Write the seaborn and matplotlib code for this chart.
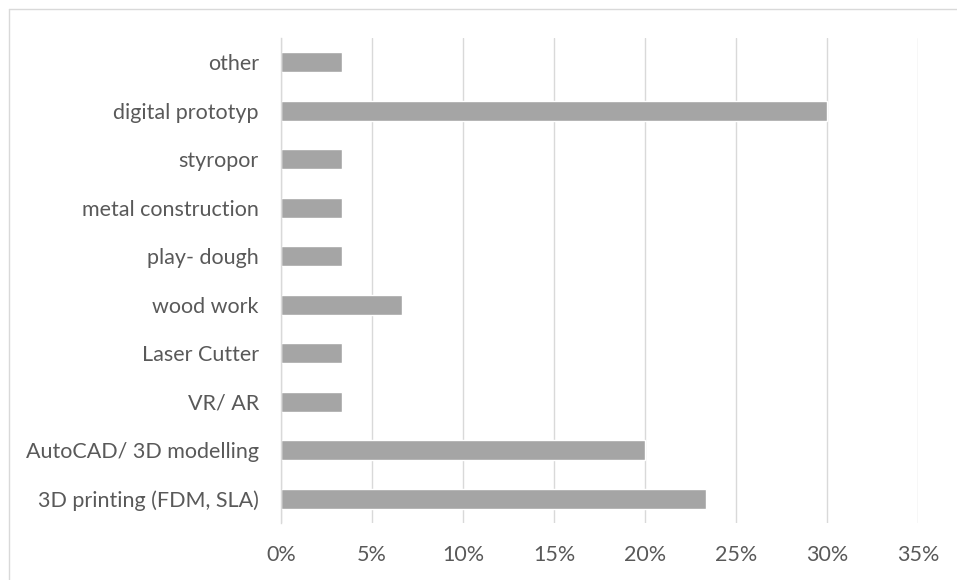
import matplotlib
matplotlib.use("Agg")
import matplotlib.pyplot as plt
import seaborn as sns
import pandas as pd
from matplotlib.lines import Line2D
from matplotlib.ticker import FuncFormatter

categories = ["other", "digital prototyp", "styropor", "metal construction",
              "play- dough", "wood work", "Laser Cutter", "VR/ AR",
              "AutoCAD/ 3D modelling", "3D printing (FDM, SLA)"]
values = [3.33, 30.0, 3.33, 3.33, 3.33, 6.67, 3.33, 3.33, 20.0, 23.33]
x_ticks = [0, 5, 10, 15, 20, 25, 30, 35]

sns.set_theme(style="white")
plt.rcParams['font.family'] = ['Lato', 'DejaVu Sans']

df = pd.DataFrame({"category": categories, "value": values})

W, H = 957, 580
fig = plt.figure(figsize=(W / 100, H / 100), dpi=100)
ax = fig.add_axes([281 / W, 1 - 523 / H, (918 - 281) / W, (523 - 38) / H])

sns.barplot(data=df, x="value", y="category", orient="h", color="#a5a5a5",
            width=0.41, saturation=1, ax=ax, order=categories)

ax.set_xlim(0, 35)
ax.set_ylim(len(categories) - 0.5, -0.5)
ax.set_xticks(x_ticks)
ax.xaxis.set_major_formatter(FuncFormatter(lambda v, p: f"{int(round(v))}%"))
ax.grid(axis="x", color="#d9d9d9", linewidth=1.0)
ax.set_axisbelow(True)
for s in ["top", "right", "bottom"]:
    ax.spines[s].set_visible(False)
ax.spines["left"].set_color("#d9d9d9")
ax.spines["left"].set_linewidth(1.0)
ax.set_xlabel("")
ax.set_ylabel("")
ax.tick_params(axis="both", length=0, labelsize=15.5, colors="#595959")
ax.tick_params(axis="y", pad=16)
ax.tick_params(axis="x", pad=16)

# chart border (top and left visible)
fig.add_artist(Line2D([9 / W, 9 / W], [0, 1 - 9 / H], transform=fig.transFigure,
                      color="#d9d9d9", linewidth=1.0))
fig.add_artist(Line2D([9 / W, 1], [1 - 9 / H, 1 - 9 / H], transform=fig.transFigure,
                      color="#d9d9d9", linewidth=1.0))

fig.savefig("out.png", dpi=100)
